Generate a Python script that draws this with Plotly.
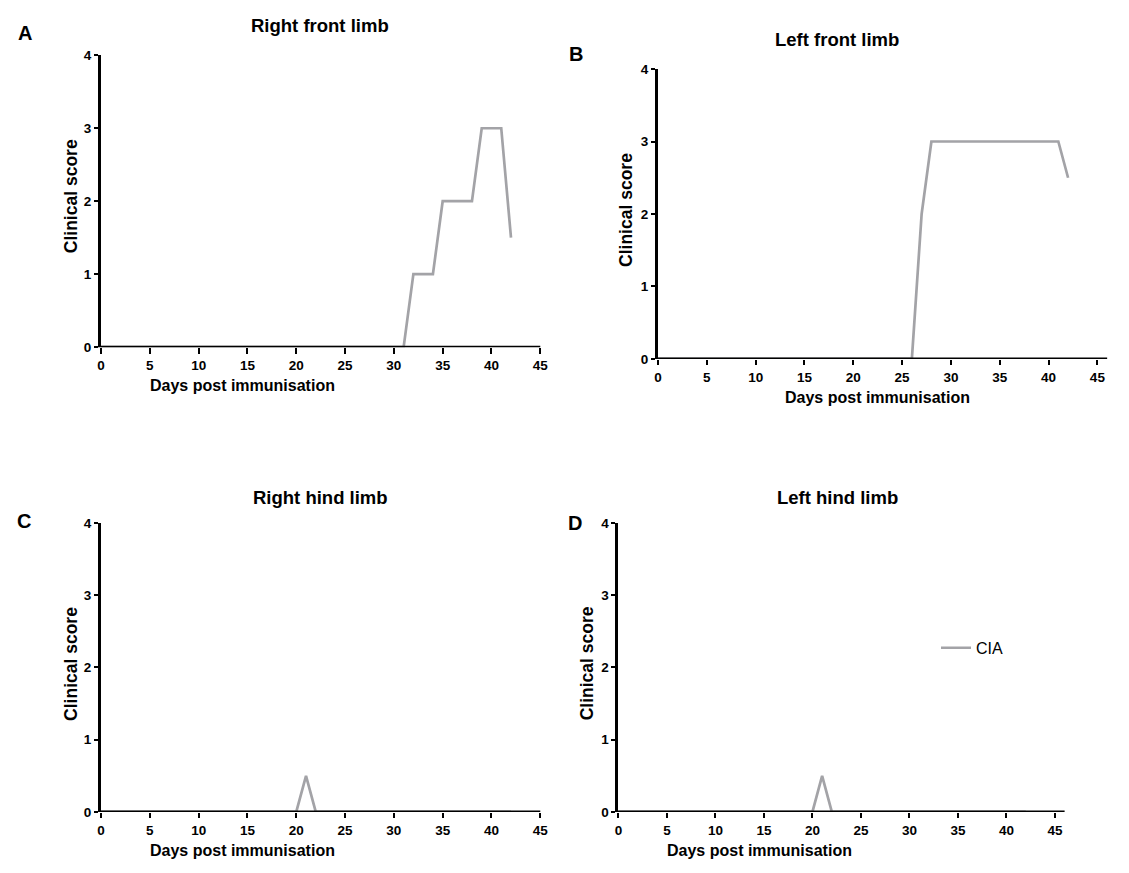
import plotly.graph_objects as go

# page body has an 8px margin: draw a figure 8px smaller and shift coordinates
OFF = 8
W, H = 1129 - OFF, 873 - OFF

# ---- data ----
rf_days = [0, 31, 32, 34, 35, 38, 39, 41, 42]
rf_score = [0, 0, 1, 1, 2, 2, 3, 3, 1.5]

lf_days = [0, 26, 27, 28, 41, 42]
lf_score = [0, 0, 2, 3, 3, 2.5]

rh_days = [0, 20, 21, 22, 42]
rh_score = [0, 0, 0.5, 0, 0]

lh_days = [0, 20, 21, 22, 42]
lh_score = [0, 0, 0.5, 0, 0]

panel_titles = ["Right front limb", "Left front limb", "Right hind limb", "Left hind limb"]
panel_letters = ["A", "B", "C", "D"]
x_ticks = [0, 5, 10, 15, 20, 25, 30, 35, 40, 45]
y_ticks = [0, 1, 2, 3, 4]
series_name = "CIA"

LINE = "#a3a3a7"
FONT = "Liberation Sans, Arial, sans-serif"
AXW = 3

def px(x):
    return (x - OFF) / W

def py(y):
    return 1 - (y - OFF) / H

# panel geometry in pixels: (x of day 0, x of axis end, axis max, y of 0, y of 4)
geo = [
    (98, 542, 45, 346, 49),
    (661, 1115, 46, 358, 63),
    (98, 542, 45, 819, 525),
    (621, 1072, 46, 819, 525),
]
data = [(rf_days, rf_score), (lf_days, lf_score), (rh_days, rh_score), (lh_days, lh_score)]

fig = go.Figure()
shapes = []
for i, ((x0, x1, xmax, y0, y4), (d, s)) in enumerate(zip(geo, data)):
    n = "" if i == 0 else str(i + 1)
    fig.add_trace(go.Scatter(
        x=d, y=s, mode="lines", name=series_name,
        line=dict(color=LINE, width=2.7),
        xaxis="x" + n, yaxis="y" + n,
        showlegend=(i == 3),
    ))
    fig.layout["xaxis" + n] = dict(
        domain=[px(x0), px(x1)], range=[0, xmax], anchor="y" + n,
        tickvals=x_ticks, ticks="outside", ticklen=5.5, tickwidth=2, tickcolor="black",
        showline=False, layer="above traces",
        showgrid=False, zeroline=False,
        tickfont=dict(family=FONT, size=13.5, color="black", weight="bold"),
    )
    fig.layout["yaxis" + n] = dict(
        domain=[py(y0), py(y4)], range=[0, 4], anchor="x" + n,
        tickvals=y_ticks, ticks="outside", ticklen=4, tickwidth=2, tickcolor="black",
        showline=True, linecolor="black", linewidth=AXW, layer="above traces",
        showgrid=False, zeroline=False,
        tickfont=dict(family=FONT, size=13.5, color="black", weight="bold"),
    )
    # bottom axis line drawn centred on score 0 so the zero segment of the trace sits under it
    shapes.append(dict(
        type="line", layer="above",
        xref=("x" + n + " domain"), yref=("y" + n),
        x0=-AXW / (x1 - x0), x1=1, y0=0, y1=0,
        line=dict(color="black", width=AXW),
    ))

ann = []
for (lx, ly), t in zip([(21, 26), (578, 48), (20, 523), (577, 525)], panel_letters):
    ann.append(dict(x=px(lx), y=py(ly), text=t, showarrow=False, xref="paper", yref="paper",
                    xanchor="center", yanchor="middle",
                    font=dict(family=FONT, size=20, color="black", weight="bold")))
for (tx, ty), t in zip([(319, 19), (842, 33), (320, 499), (842, 499)], panel_titles):
    ann.append(dict(x=px(tx), y=py(ty), text=t, showarrow=False, xref="paper", yref="paper",
                    xanchor="center", yanchor="middle",
                    font=dict(family=FONT, size=18.5, color="black", weight="bold")))
for (tx, ty) in [(241, 385), (883, 397), (241, 858), (764, 858)]:
    ann.append(dict(x=px(tx), y=py(ty), text="Days post immunisation", showarrow=False,
                    xref="paper", yref="paper", xanchor="center", yanchor="middle",
                    font=dict(family=FONT, size=16, color="black", weight="bold")))
for (tx, ty) in [(67, 192), (628, 206), (67, 668), (589, 668)]:
    ann.append(dict(x=px(tx), y=py(ty), text="Clinical score", showarrow=False, textangle=-90,
                    xref="paper", yref="paper", xanchor="center", yanchor="middle",
                    font=dict(family=FONT, size=17.5, color="black", weight="bold")))

fig.update_layout(
    width=W, height=H,
    margin=dict(l=0, r=0, t=0, b=0),
    paper_bgcolor="white", plot_bgcolor="white",
    annotations=ann,
    shapes=shapes,
    showlegend=True,
    legend=dict(x=px(942), y=py(652), xanchor="left", yanchor="middle",
                bgcolor="rgba(0,0,0,0)", borderwidth=0,
                font=dict(family=FONT, size=16, color="black")),
)

fig.write_html("out.html")
